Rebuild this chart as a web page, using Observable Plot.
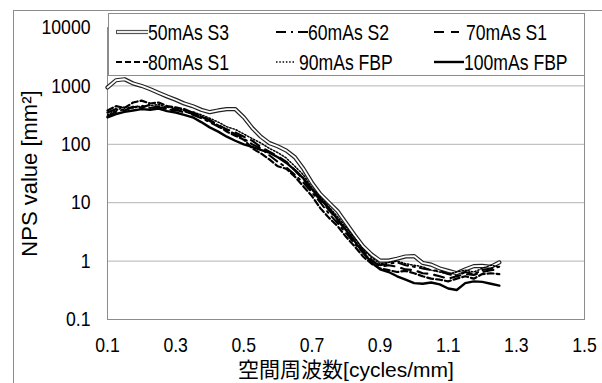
<!DOCTYPE html>
<html>
<head>
<meta charset="utf-8">
<script src="https://cdn.jsdelivr.net/npm/d3@7"></script>
<script src="https://cdn.jsdelivr.net/npm/@observablehq/plot@0.6"></script>
<style>
  html, body { margin: 0; padding: 0; background: #fff; overflow: hidden; }
  #wrap { position: relative; width: 602px; height: 383px; overflow: hidden; }
  #outer { position: absolute; left: 13px; top: 10px; width: 700px; height: 500px; border: 1px solid #8c8c8c; box-sizing: border-box; }
  #chart { position: absolute; left: 0; top: 0; }
  #legend { position: absolute; left: 108px; top: 13px; width: 475px; height: 61px; border: 1px solid #8c8c8c; background: #fff; }
</style>
</head>
<body>
<div id="wrap">
  <div id="outer"></div>
  <div id="chart"></div>
  <div id="legend"></div>
</div>
<script>
// ---- data ----
const freq = [0.1,0.125,0.15,0.175,0.2,0.225,0.25,0.275,0.3,0.325,0.35,0.375,0.4,0.425,0.45,0.475,0.5,0.525,0.55,0.575,0.6,0.625,0.65,0.675,0.7,0.725,0.75,0.775,0.8,0.825,0.85,0.875,0.9,0.925,0.95,0.975,1.0,1.025,1.05,1.075,1.1,1.125,1.15,1.175,1.2,1.225,1.25];

const s50mAsS3 = [940,1250,1300,1100,1000,880,760,660,580,500,450,390,355,380,400,400,290,190,135,105,92,78,60,38,22,14,10,7.2,4.5,2.8,1.8,1.3,1.02,1.02,1.1,1.2,1.22,0.93,0.87,0.75,0.68,0.62,0.72,0.82,0.83,0.8,0.95];
const s60mAsS2 = [300,360,400,430,460,420,450,400,380,370,320,280,240,200,175,150,125,100,85,65,50,40,30,22,15,10,6.5,4.5,3,2,1.4,1.0,0.85,0.9,0.95,0.85,0.8,0.75,0.7,0.68,0.6,0.55,0.65,0.6,0.7,0.75,0.8];
const s70mAsS1 = [350,400,380,440,420,480,430,420,400,350,340,300,260,215,180,160,135,115,90,75,62,50,36,25,16,11,7.5,5,3.4,2.2,1.5,1.05,0.8,0.85,0.8,0.72,0.7,0.62,0.6,0.55,0.5,0.55,0.6,0.58,0.65,0.7,0.72];
const s80mAsS1 = [380,450,420,520,560,500,520,450,430,400,350,300,250,210,165,140,120,85,70,55,42,38,28,19,13,8,5.5,4,2.6,1.8,1.2,0.9,0.75,0.7,0.65,0.68,0.62,0.55,0.5,0.48,0.45,0.5,0.55,0.5,0.6,0.62,0.6];
const s90mAsFBP = [320,380,440,420,450,460,480,430,420,380,360,320,280,240,200,180,150,125,105,85,72,58,42,30,18,12.5,8.5,5.8,3.8,2.5,1.6,1.15,0.9,0.95,1.0,0.9,0.85,0.8,0.7,0.65,0.6,0.65,0.7,0.65,0.75,0.85,0.8];
const s100mAsFBP = [290,330,360,380,400,390,410,370,350,320,290,240,195,165,135,115,100,90,80,72,60,48,36,26,17,11.5,8,5.2,3.4,2.2,1.4,0.95,0.72,0.65,0.55,0.48,0.42,0.41,0.43,0.4,0.34,0.32,0.42,0.45,0.44,0.41,0.38];

const seriesNames = ["50mAs S3","60mAs S2","70mAs S1","80mAs S1","90mAs FBP","100mAs FBP"];
const seriesValues = [s50mAsS3, s60mAsS2, s70mAsS1, s80mAsS1, s90mAsFBP, s100mAsFBP];

const xTicks = [0.1,0.3,0.5,0.7,0.9,1.1,1.3,1.5];
const yTicks = [0.1,1,10,100,1000,10000];
const xTitle = "空間周波数[cycles/mm]";
const yTitle = "NPS value [mm²]";

// ---- styles ----
const FONT = '"Liberation Sans",Arial,"Noto Sans CJK JP",sans-serif';
const NARROW = 0.84;      // condense tick labels to mimic a narrow face
const LEG_NARROW = 0.8;   // condense legend labels
const styles = [
  {double: true},
  {dash: "10,5,2,5", w: 2},
  {dash: "10,7", w: 2.2},
  {dash: "6,3", w: 2.2},
  {dash: "1.5,1.8", w: 1.5},
  {dash: null, w: 2.4}
];

const rows = seriesNames.map((name, i) => freq.map((f, j) => ({series: name, f, v: seriesValues[i][j]})));

const lineMarks = [];
seriesNames.forEach((name, i) => {
  const st = styles[i];
  if (st.double) {
    lineMarks.push(Plot.line(rows[i], {x: "f", y: "v", stroke: "#222", strokeWidth: 4.2}));
    lineMarks.push(Plot.line(rows[i], {x: "f", y: "v", stroke: "#fff", strokeWidth: 1.8}));
  } else {
    lineMarks.push(Plot.line(rows[i], {x: "f", y: "v", stroke: "#000", strokeWidth: st.w, strokeDasharray: st.dash}));
  }
});

const chart = Plot.plot({
  width: 602,
  height: 383,
  marginLeft: 107,
  marginRight: 18,
  marginTop: 27,
  marginBottom: 64,
  style: {fontFamily: FONT, fontSize: "21px", color: "#000", background: "transparent"},
  x: {domain: [0.1, 1.5], ticks: xTicks, tickFormat: d => d.toFixed(1), tickSize: 0, tickPadding: 18, label: null},
  y: {type: "log", domain: [0.1, 10000], ticks: yTicks, tickFormat: d => String(d), tickSize: 0, tickPadding: 17, label: null},
  marks: [
    Plot.ruleY(yTicks, {stroke: "#b4b4b4", strokeWidth: 1}),
    Plot.frame({stroke: "#8c8c8c"}),
    ...lineMarks,
    Plot.text([yTitle], {text: d => d, frameAnchor: "left", dx: -78, rotate: -90, textAnchor: "middle", lineAnchor: "middle", fontSize: 22}),
    Plot.text([xTitle], {text: d => d, frameAnchor: "bottom", dy: 51, textAnchor: "middle", lineAnchor: "middle", fontSize: 21})
  ]
});
document.getElementById("chart").appendChild(chart);

function condense(sel, k) {
  sel.each(function () {
    const w = this.getComputedTextLength();
    if (w > 0) {
      this.setAttribute("textLength", (w * k).toFixed(2));
      this.setAttribute("lengthAdjust", "spacingAndGlyphs");
    }
  });
}
condense(d3.select(chart).selectAll('g[aria-label="x-axis tick label"] text, g[aria-label="y-axis tick label"] text'), NARROW);

// ---- legend (overlaid on the plot, as in the reference) ----
const legendPos = [
  {sx: 7, sw: 32, tx: 39, y: 18},
  {sx: 167, sw: 32, tx: 199, y: 18},
  {sx: 325, sw: 25, tx: 357, y: 18},
  {sx: 7, sw: 32, tx: 39, y: 48},
  {sx: 167, sw: 19, tx: 190, y: 48},
  {sx: 325, sw: 30, tx: 355, y: 48}
];
const lsvg = d3.select("#legend").append("svg").attr("width", 475).attr("height", 61)
  .style("position", "absolute").style("left", "0px").style("top", "0px");
seriesNames.forEach((name, i) => {
  const p = legendPos[i], st = styles[i];
  if (st.double) {
    lsvg.append("line").attr("x1", p.sx).attr("x2", p.sx + p.sw).attr("y1", p.y).attr("y2", p.y).attr("stroke", "#555").attr("stroke-width", 4.2);
    lsvg.append("line").attr("x1", p.sx + 1).attr("x2", p.sx + p.sw).attr("y1", p.y).attr("y2", p.y).attr("stroke", "#fff").attr("stroke-width", 1.8);
  } else {
    const l = lsvg.append("line").attr("x1", p.sx).attr("x2", p.sx + p.sw).attr("y1", p.y).attr("y2", p.y).attr("stroke", "#000").attr("stroke-width", st.w);
    if (st.dash) l.attr("stroke-dasharray", st.dash);
  }
  lsvg.append("g").attr("transform", `translate(${p.tx},${p.y}) scale(${LEG_NARROW},1)`)
    .append("text").attr("x", 0).attr("y", 0).attr("dy", "0.36em")
    .style("font-family", FONT).style("font-size", "22px").text(name);
});
</script>
</body>
</html>
